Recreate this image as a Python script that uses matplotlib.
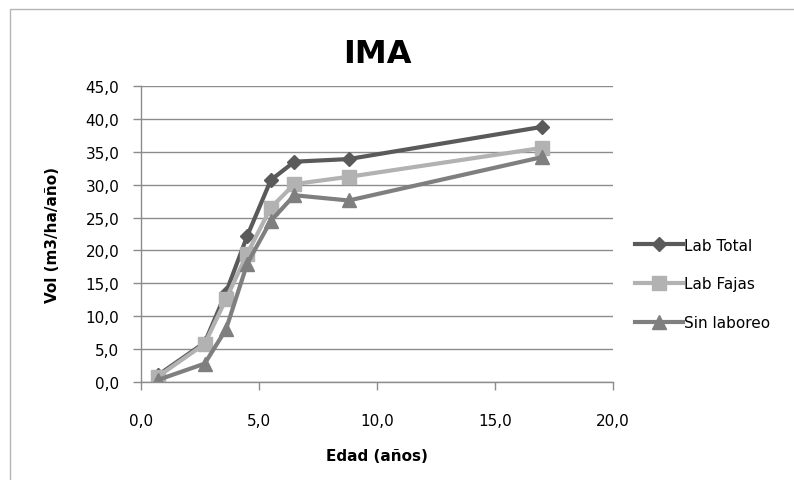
import matplotlib.pyplot as plt
from matplotlib.patches import Rectangle
from matplotlib.ticker import FuncFormatter

# Datos IMA por tratamiento
edad_total = [0.7, 2.7, 3.6, 4.5, 5.5, 6.5, 8.8, 17.0]
lab_total = [1.0, 6.0, 13.6, 22.2, 30.7, 33.5, 33.9, 38.8]

edad_fajas = [0.7, 2.7, 3.6, 4.5, 5.5, 6.5, 8.8, 17.0]
lab_fajas = [0.8, 5.8, 12.6, 19.5, 26.5, 30.1, 31.2, 35.6]

edad_sin = [0.7, 2.7, 3.6, 4.5, 5.5, 6.5, 8.8, 17.0]
sin_laboreo = [0.3, 2.8, 8.0, 18.0, 24.5, 28.4, 27.6, 34.2]

plt.rcParams['font.family'] = ['DejaVu Sans']

fig = plt.figure(figsize=(7.94, 4.81), dpi=100)
# marco del grafico
fig.patches.append(Rectangle((0.0126, -0.1), 1.1, 1.079, transform=fig.transFigure,
                             fill=False, edgecolor='#b4b4b4', linewidth=1))
ax = fig.add_axes([0.1776, 0.2037, 0.5944, 0.6153])

ax.plot(edad_total, lab_total, color='#5a5a5a', lw=3, marker='D', ms=7, label='Lab Total')
ax.plot(edad_fajas, lab_fajas, color='#b2b2b2', lw=3, marker='s', ms=10, label='Lab Fajas')
ax.plot(edad_sin, sin_laboreo, color='#7f7f7f', lw=3, marker='^', ms=10, label='Sin laboreo')

ax.set_xlim(0, 20)
ax.set_ylim(0, 45)
ax.set_xticks([0, 5, 10, 15, 20])
ax.set_yticks(range(0, 46, 5))
fmt = FuncFormatter(lambda v, p: f'{v:.1f}'.replace('.', ','))
ax.xaxis.set_major_formatter(fmt)
ax.yaxis.set_major_formatter(fmt)

ax.grid(axis='y', color='#8c8c8c', lw=1)
ax.set_axisbelow(True)
for s in ['top', 'right']:
    ax.spines[s].set_visible(False)
for s in ['left', 'bottom']:
    ax.spines[s].set_color('#8c8c8c')
    ax.spines[s].set_linewidth(1)
ax.tick_params(colors='#8c8c8c', labelcolor='black', labelsize=11, length=5.5, width=1,
               direction='out')
ax.tick_params(axis='x', pad=17)
ax.tick_params(axis='y', pad=10)

ax.set_title('IMA', fontsize=23, fontweight='bold', pad=17)
fig.text(377 / 794, 1 - 457 / 481, 'Edad (años)', fontsize=11, fontweight='bold',
         ha='center', va='center')
fig.text(53 / 794, 1 - 235 / 481, 'Vol (m3/ha/año)', fontsize=11, fontweight='bold',
         rotation=90, ha='center', va='center')

fig.legend(loc='center left', bbox_to_anchor=(0.783, 1 - 285 / 481), frameon=False,
           fontsize=11, handlelength=3.1, labelspacing=1.55, handletextpad=0.1)

fig.savefig('out.png', dpi=100)
